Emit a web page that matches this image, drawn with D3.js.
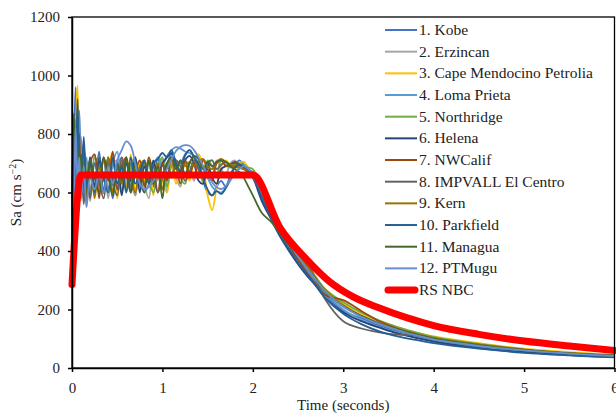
<!DOCTYPE html>
<html>
<head>
<meta charset="utf-8">
<script src="https://cdn.jsdelivr.net/npm/d3@7"></script>
<style>
  body { margin: 0; background: #fff; }
  #svg-container { width: 616px; height: 417px; }
</style>
</head>
<body>
<div id="svg-container"></div>
<script>
// periodes (s), gedeeld door alle records
const periods = [0, 0.02, 0.04, 0.06, 0.08, 0.1, 0.13, 0.16, 0.2, 0.25,
  0.3, 0.35, 0.4, 0.45, 0.5, 0.55, 0.6, 0.65, 0.7, 0.75,
  0.8, 0.85, 0.9, 0.95, 1.0, 1.05, 1.1, 1.15, 1.2, 1.25,
  1.3, 1.35, 1.4, 1.45, 1.5, 1.55, 1.6, 1.65, 1.7, 1.75,
  1.8, 1.85, 1.9, 1.95, 2.0,
  2.1, 2.2, 2.3, 2.4, 2.5, 2.6, 2.7, 2.8,
  3.0, 3.2, 3.4, 3.6, 3.8, 4.0, 4.5, 5.0, 5.5, 6.0]

const recordNames = ['1. Kobe', '2. Erzincan', '3. Cape Mendocino Petrolia', '4. Loma Prieta',
  '5. Northridge', '6. Helena', '7. NWCalif', '8. IMPVALL El Centro', '9. Kern',
  '10. Parkfield', '11. Managua', '12. PTMugu']

const recordColors = ['#4472c4', '#a5a5a5', '#ffc000', '#5b9bd5', '#70ad47', '#264478',
  '#9e480e', '#636363', '#997300', '#255e91', '#43682b', '#698ed0']

// Sa waardes (cm/s2) per record
const kobe = [480, 720, 960, 780, 880, 690, 760, 600, 720, 620,
  740, 600, 700, 580, 680, 720, 620, 700, 590, 690,
  640, 710, 620, 720, 650, 690, 730, 710, 700, 730,
  745, 720, 680, 640, 600, 590, 620, 640, 620, 660,
  690, 710, 695, 680, 665,
  580, 520, 460, 410, 370, 330, 290, 250,
  195, 170, 145, 125, 110, 95, 72, 58, 47, 40]
const erzincan = [450, 600, 700, 820, 650, 760, 580, 700, 570, 730,
  620, 720, 580, 690, 710, 600, 720, 640, 590, 710,
  630, 580, 700, 640, 720, 600, 700, 650, 620, 710,
  690, 640, 710, 630, 700, 650, 710, 680, 660, 700,
  710, 690, 680, 670, 655,
  590, 530, 470, 420, 380, 340, 300, 265,
  215, 180, 155, 130, 115, 100, 78, 62, 52, 44]
const capeMendocino = [520, 700, 800, 965, 720, 570, 740, 550, 700, 590,
  720, 600, 680, 740, 580, 700, 620, 730, 600, 710,
  640, 720, 590, 700, 640, 600, 720, 630, 680, 700,
  640, 710, 730, 690, 590, 540, 620, 690, 710, 690,
  680, 700, 705, 685, 665,
  600, 540, 480, 430, 385, 345, 305, 270,
  220, 185, 160, 140, 122, 108, 85, 66, 54, 45]
const lomaPrieta = [500, 650, 850, 700, 580, 790, 620, 720, 600, 700,
  630, 720, 610, 700, 740, 630, 720, 620, 710, 640,
  600, 630, 690, 720, 690, 725, 745, 755, 750, 740,
  735, 725, 700, 680, 650, 620, 605, 600, 615, 640,
  665, 685, 695, 680, 660,
  600, 545, 490, 430, 380, 335, 295, 255,
  200, 165, 140, 120, 105, 92, 70, 56, 45, 38]
const northridge = [460, 580, 760, 620, 740, 590, 720, 660, 590, 720,
  690, 600, 720, 650, 620, 710, 600, 690, 720, 620,
  700, 640, 600, 690, 720, 620, 690, 710, 650, 630,
  700, 720, 680, 640, 710, 690, 660, 710, 695, 685,
  695, 700, 690, 685, 680,
  610, 550, 490, 435, 390, 350, 310, 270,
  225, 190, 162, 140, 122, 106, 82, 64, 52, 44]
const helena = [540, 800, 680, 860, 700, 620, 770, 580, 720, 620,
  710, 600, 720, 640, 700, 590, 700, 640, 720, 600,
  690, 630, 710, 650, 700, 720, 735, 700, 670, 710,
  725, 700, 640, 630, 700, 650, 630, 680, 690, 695,
  705, 695, 685, 665, 650,
  570, 510, 450, 400, 355, 315, 280, 240,
  190, 160, 138, 118, 103, 90, 68, 54, 44, 37]
const nwCalif = [430, 620, 740, 680, 800, 640, 740, 570, 700, 730,
  580, 720, 640, 740, 610, 690, 720, 600, 670, 710,
  620, 720, 660, 600, 700, 640, 720, 690, 630, 710,
  660, 700, 650, 710, 680, 640, 700, 710, 690, 695,
  700, 695, 685, 670, 660,
  590, 530, 470, 420, 370, 325, 285, 250,
  232, 195, 160, 135, 117, 102, 78, 62, 50, 42]
const impvall = [470, 640, 720, 800, 600, 710, 560, 670, 580, 700,
  640, 580, 700, 630, 590, 720, 660, 600, 700, 640,
  710, 630, 690, 600, 650, 700, 650, 710, 690, 640,
  670, 710, 680, 650, 700, 710, 680, 695, 705, 695,
  690, 685, 680, 670, 650,
  590, 530, 470, 430, 400, 365, 300, 235,
  160, 135, 122, 114, 112, 100, 80, 62, 50, 42]
const kern = [490, 680, 620, 760, 710, 630, 730, 640, 710, 580,
  690, 640, 720, 600, 700, 630, 710, 660, 600, 690,
  710, 650, 630, 700, 610, 690, 710, 650, 710, 690,
  705, 690, 705, 715, 690, 680, 705, 715, 705, 695,
  690, 685, 680, 675, 670,
  610, 550, 490, 440, 395, 350, 305, 265,
  215, 178, 152, 132, 116, 102, 80, 63, 51, 43]
const parkfield = [510, 760, 640, 920, 700, 600, 790, 620, 700, 600,
  720, 650, 600, 720, 630, 690, 600, 720, 630, 670,
  710, 630, 700, 715, 735, 720, 745, 700, 675, 725,
  745, 720, 695, 650, 610, 590, 605, 595, 615, 650,
  685, 695, 690, 675, 660,
  580, 515, 455, 405, 360, 320, 280, 240,
  185, 150, 125, 108, 96, 85, 66, 52, 43, 36]
const managua = [520, 870, 700, 760, 590, 730, 630, 570, 710, 650,
  600, 720, 660, 590, 700, 640, 720, 600, 690, 650,
  600, 710, 630, 690, 580, 700, 720, 680, 710, 660,
  700, 725, 715, 680, 705, 690, 705, 710, 705, 690,
  680, 670, 650, 620, 590,
  530, 500, 460, 420, 380, 340, 300, 260,
  210, 178, 152, 132, 116, 100, 78, 62, 50, 42]
const ptMugu = [500, 560, 820, 640, 720, 580, 690, 550, 650, 610,
  670, 600, 690, 630, 710, 745, 775, 760, 700, 630,
  612, 618, 640, 660, 650, 680, 712, 742, 756, 762,
  760, 745, 720, 690, 660, 635, 618, 612, 622, 645,
  665, 680, 690, 680, 665,
  600, 545, 485, 430, 380, 340, 300, 262,
  210, 175, 150, 130, 112, 98, 76, 60, 49, 41]

const records = [kobe, erzincan, capeMendocino, lomaPrieta, northridge, helena,
  nwCalif, impvall, kern, parkfield, managua, ptMugu]

// ontwerpspectrum RS NBC
const nbcPeriods = [0, 0.1, 2.0, 2.3, 2.6, 2.85, 3.1, 3.4, 3.7, 4.0, 4.5, 5.0, 5.5, 6.0]
const nbcSa = [285, 660, 660, 480, 370, 295, 245, 205, 172, 145, 115, 92, 75, 60]

const xTicks = [0, 1, 2, 3, 4, 5, 6]
const yTicks = [0, 200, 400, 600, 800, 1000, 1200]

const fontStack = "'Liberation Serif', 'DejaVu Serif', 'Times New Roman', Times, serif"

const width = 616
const height = 417
const margin = { top: 17, right: 1.5, bottom: 49, left: 72 }
const innerWidth = width - margin.left - margin.right
const innerHeight = height - margin.top - margin.bottom

const svg = d3.select('#svg-container').append('svg')
  .attr('width', width).attr('height', height)
  .style('font-family', fontStack)

const g = svg.append('g').attr('transform', `translate(${margin.left}, ${margin.top})`)

const xScale = d3.scaleLinear().domain([0, 6]).range([0, innerWidth])
const yScale = d3.scaleLinear().domain([0, 1200]).range([innerHeight, 0])

// lijnen van de records
const line = d3.line()
  .x(d => xScale(d[0]))
  .y(d => yScale(d[1]))
  .curve(d3.curveCatmullRom.alpha(0.5))

records.forEach((values, i) => {
  g.append('path')
    .datum(periods.map((t, j) => [t, values[j]]))
    .attr('fill', 'none')
    .attr('stroke', recordColors[i])
    .attr('stroke-width', 1.8)
    .attr('stroke-linejoin', 'round')
    .attr('d', line)
})

// RS NBC bovenop
const nbcLine = d3.line()
  .x(d => xScale(d[0]))
  .y(d => yScale(d[1]))
  .curve(d3.curveMonotoneX)

g.append('path')
  .datum(nbcPeriods.map((t, j) => [t, nbcSa[j]]))
  .attr('fill', 'none')
  .attr('stroke', '#ff0000')
  .attr('stroke-width', 7)
  .attr('stroke-linejoin', 'round')
  .attr('stroke-linecap', 'round')
  .attr('d', nbcLine)

// kader
g.append('rect')
  .attr('width', innerWidth).attr('height', innerHeight)
  .attr('fill', 'none').attr('stroke', '#000').attr('stroke-width', 1.3)

// assen
const yAxis = g.append('g')
  .call(d3.axisLeft(yScale).tickValues(yTicks).tickFormat(d3.format('d'))
    .tickSize(4).tickSizeOuter(0).tickPadding(8))
const xAxis = g.append('g')
  .attr('transform', `translate(0, ${innerHeight})`)
  .call(d3.axisBottom(xScale).tickValues(xTicks).tickFormat(d3.format('d'))
    .tickSize(4).tickSizeOuter(0).tickPadding(10))

;[xAxis, yAxis].forEach(a => {
  a.attr('font-family', null).attr('font-size', null)
  a.selectAll('path, line').attr('stroke', '#000').attr('stroke-width', 1.5)
  a.selectAll('text').style('font-family', fontStack).style('font-size', '15px').attr('fill', '#222')
})

// as titels
svg.append('text')
  .attr('x', margin.left + innerWidth / 2).attr('y', 410)
  .attr('text-anchor', 'middle')
  .style('font-family', fontStack).style('font-size', '15px').attr('fill', '#222')
  .text('Time (seconds)')

const yTitle = svg.append('text')
  .attr('transform', `translate(21, ${margin.top + innerHeight / 2}) rotate(-90)`)
  .attr('text-anchor', 'middle')
  .style('font-family', fontStack).style('font-size', '15px').attr('fill', '#222')
yTitle.append('tspan').text('Sa (cm s')
yTitle.append('tspan').attr('dy', -5).style('font-size', '10px').text('−2')
yTitle.append('tspan').attr('dy', 5).text(')')

// legenda
const legendNames = recordNames.concat(['RS NBC'])
const legendColors = recordColors.concat(['#ff0000'])
const legend = svg.append('g')
legendNames.forEach((name, i) => {
  const ly = 30 + i * 21.67
  const isNbc = i === legendNames.length - 1
  legend.append('line')
    .attr('x1', isNbc ? 388 : 385).attr('x2', isNbc ? 415 : 417)
    .attr('y1', ly).attr('y2', ly)
    .attr('stroke', legendColors[i])
    .attr('stroke-width', isNbc ? 7 : 2)
    .attr('stroke-linecap', isNbc ? 'round' : 'butt')
  legend.append('text')
    .attr('x', 419).attr('y', ly + 5)
    .style('font-family', fontStack).style('font-size', '15.5px').attr('fill', '#222')
    .text(name)
})
</script>
</body>
</html>
